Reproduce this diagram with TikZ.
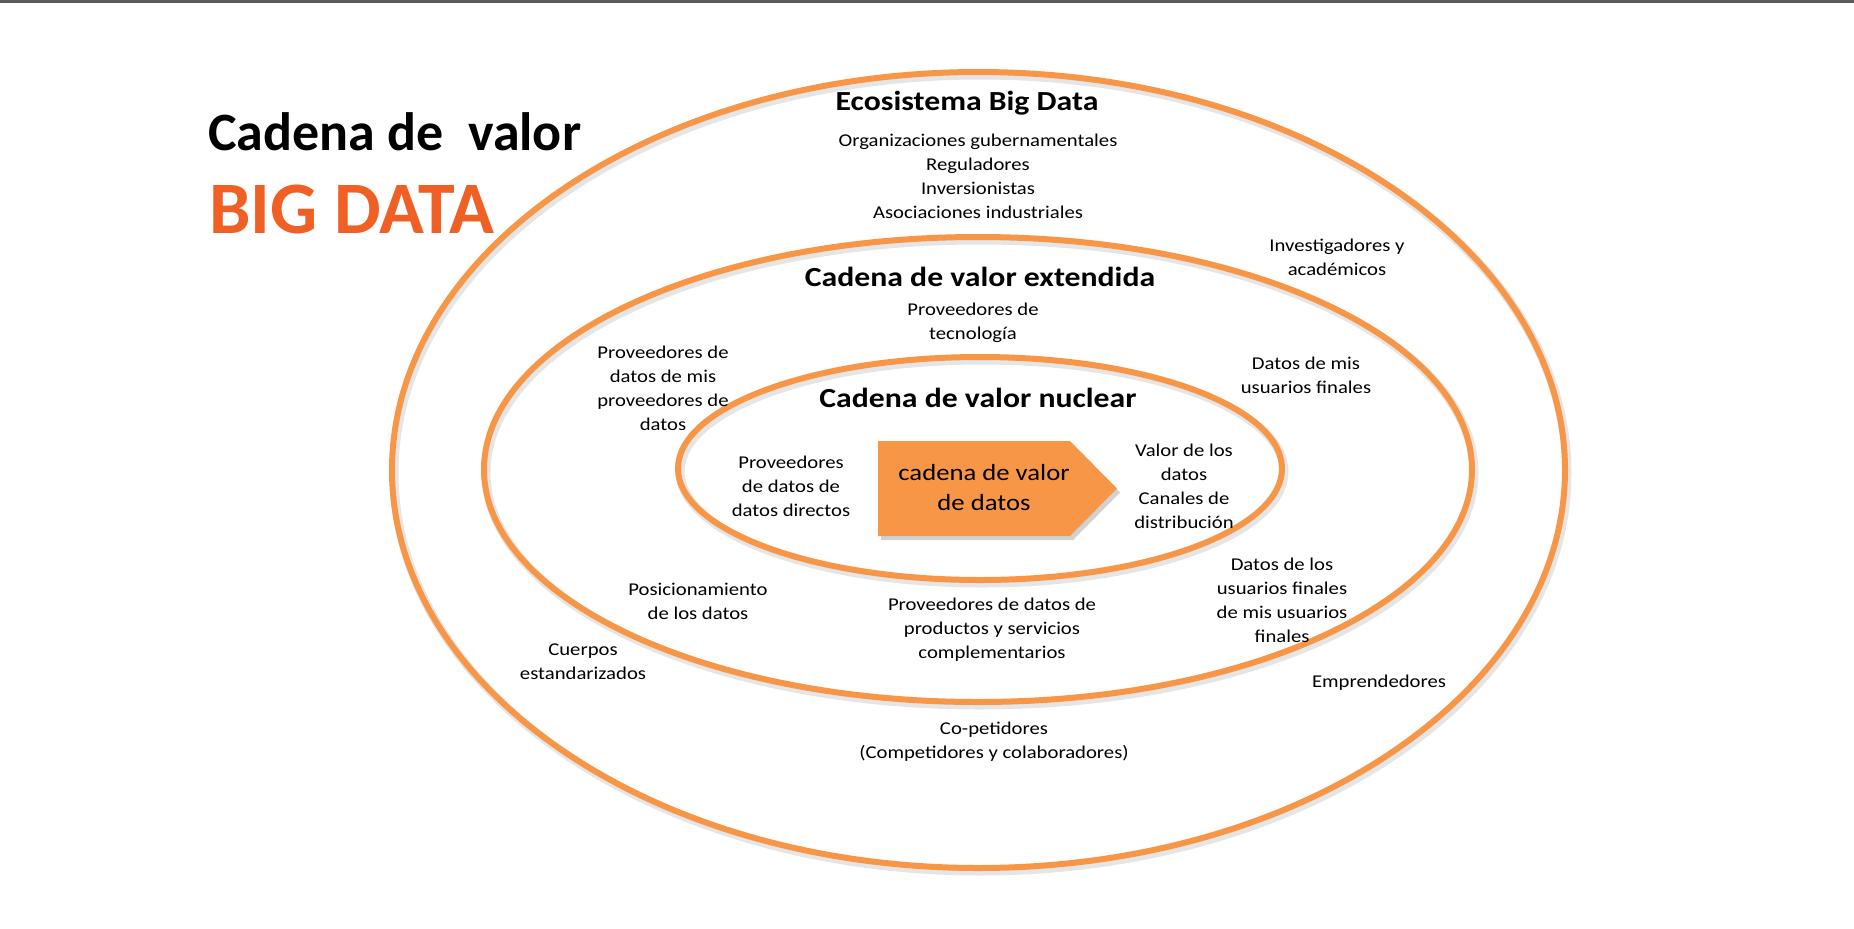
\documentclass[tikz,border=0pt]{standalone}
\usepackage{fontspec}
\setmainfont{Carlito}
\newfontfamily\dfont{Carlito}[FakeStretch=1.15]
\definecolor{org}{RGB}{247,150,70}
\definecolor{bigred}{RGB}{240,95,35}
\begin{document}
\begin{tikzpicture}[x=0.5pt,y=-0.5pt,
  ring/.style={draw=org,line width=3pt},
  ringshadow/.style={draw=black,opacity=0.1,line width=4.5pt},
  lbl/.style={align=center,inner sep=0pt,font=\dfont\fontsize{9}{12}\selectfont},
  hdr/.style={align=center,inner sep=0pt,font=\dfont\bfseries\fontsize{13.8}{16}\selectfont}]
\useasboundingbox (0,0) rectangle (1854,928);
\fill[white] (0,0) rectangle (1854,928);
\fill[black!65] (0,0) rectangle (1854,2.5);

% shadows
\begin{scope}[shift={(2,3)}]
\draw[ringshadow] (978.5,470) ellipse [x radius=586.5, y radius=398];
\draw[ringshadow] (978,469.5) ellipse [x radius=494, y radius=232.5];
\draw[ringshadow] (980,468.5) ellipse [x radius=302, y radius=111.5];
\end{scope}
% rings
\draw[ring] (978.5,470) ellipse [x radius=586.5, y radius=398];
\draw[ring] (978,469.5) ellipse [x radius=494, y radius=232.5];
\draw[ring] (980,468.5) ellipse [x radius=302, y radius=111.5];

% arrow
\fill[black,opacity=0.18] (881,445) -- (1073,445) -- (1120,492.5) -- (1073,540) -- (881,540) -- cycle;
\fill[org] (878,441) -- (1070,441) -- (1117,488.5) -- (1070,536) -- (878,536) -- cycle;
\node[align=center,inner sep=0pt,font=\dfont\fontsize{11.6}{15}\selectfont] (cvd) at (984,488) {cadena de valor\\de datos};

% title
\node[anchor=base west,inner sep=0pt,font=\bfseries\fontsize{27}{30}\selectfont] (t1) at (208,150) {Cadena de~ valor};
\node[anchor=base west,inner sep=0pt,text=bigred,font=\bfseries\fontsize{37}{40}\selectfont] (t2) at (209,233) {BIG DATA};

% headings
\node[hdr] (h1) at (967,103) {Ecosistema Big Data};
\node[hdr] (h2) at (980,277) {Cadena de valor extendida};
\node[hdr] (h3) at (978,398) {Cadena de valor nuclear};

% labels
\node[lbl] (eco) at (978,176) {Organizaciones gubernamentales\\Reguladores\\Inversionistas\\Asociaciones industriales};
\node[lbl] (inv) at (1337,257.5) {Investigadores y\\académicos};
\node[lbl] (tec) at (973,322.5) {Proveedores de\\tecnología};
\node[lbl] (pmp) at (663,388) {Proveedores de\\datos de mis\\proveedores de\\datos};
\node[lbl] (dmu) at (1306,375) {Datos de mis\\usuarios finales};
\node[lbl] (pdd) at (791,486.5) {Proveedores\\de datos de\\datos directos};
\node[lbl] (vdd) at (1184,486) {Valor de los\\datos\\Canales de\\distribución};
\node[lbl] (dlu) at (1282,600) {Datos de los\\usuarios finales\\de mis usuarios\\finales};
\node[lbl] (pos) at (698,601) {Posicionamiento\\de los datos};
\node[lbl] (psc) at (992,629.5) {Proveedores de datos de\\productos y servicios\\complementarios};
\node[lbl] (cue) at (583,662) {Cuerpos\\estandarizados};
\node[lbl] (emp) at (1379,683) {Emprendedores};
\node[lbl] (cop) at (994,742) {Co-petidores\\(Competidores y colaboradores)};
\end{tikzpicture}
\end{document}
